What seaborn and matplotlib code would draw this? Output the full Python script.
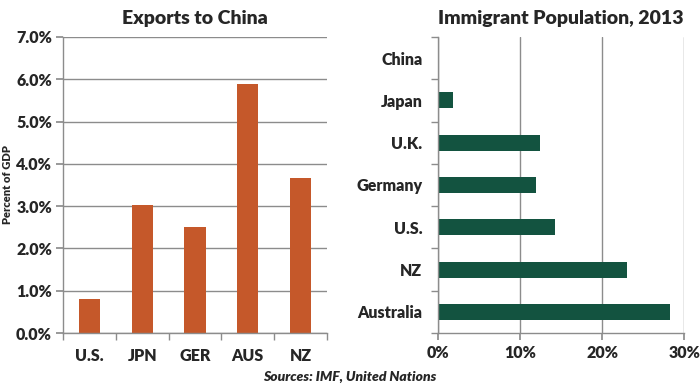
import matplotlib
matplotlib.use("Agg")
import matplotlib.pyplot as plt
import seaborn as sns
import numpy as np
import pandas as pd
from matplotlib.ticker import FixedLocator, FuncFormatter

exp_countries = ["U.S.", "JPN", "GER", "AUS", "NZ"]
exp_values = [0.80, 3.02, 2.50, 5.88, 3.67]

imm_countries = ["China", "Japan", "U.K.", "Germany", "U.S.", "NZ", "Australia"]
imm_values = [0.1, 1.9, 12.4, 11.9, 14.3, 23.0, 28.3]

sns.set_theme(style="white")
plt.rcParams['font.family'] = ['Lato', 'DejaVu Sans']
WT = "heavy"

orange = "#C5582A"
green = "#135340"
grid_c = "#8C8C8C"

fig = plt.figure(figsize=(7, 3.85), dpi=100)
W, H = 700, 385
ax1 = fig.add_axes([63 / W, (385 - 333) / H, 264 / W, 296 / H])
ax2 = fig.add_axes([437.7 / W, (385 - 333) / H, 246.6 / W, 296 / H])

df1 = pd.DataFrame({"c": exp_countries, "v": exp_values})
sns.barplot(data=df1, x="c", y="v", color=orange, width=0.4, ax=ax1,
            saturation=1, edgecolor="none")
ax1.set_ylim(0, 7)
ax1.set_xlim(-0.5, 4.5)
ax1.set_yticks(np.arange(0, 8, 1))
ax1.yaxis.set_major_formatter(FuncFormatter(lambda v, p: f"{v:.1f}%"))
ax1.yaxis.grid(True, color=grid_c, linewidth=1)
ax1.set_axisbelow(True)
ax1.set_xlabel("")
ax1.set_ylabel("Percent of GDP", fontsize=8, fontweight=WT, va="center")
ax1.yaxis.set_label_coords(-(63 - 8) / 264, 0.5)
ax1.set_title("Exports to China", fontsize=14, fontweight=WT, pad=9)
for s in ["top", "right"]:
    ax1.spines[s].set_visible(False)
for s in ["left", "bottom"]:
    ax1.spines[s].set_color(grid_c)
    ax1.spines[s].set_linewidth(1)
ax1.tick_params(axis="y", which="major", left=True, length=5, color=grid_c,
                labelsize=11.5, pad=3)
ax1.tick_params(axis="x", which="major", bottom=False, labelsize=11.5, pad=5)
ax1.xaxis.set_minor_locator(FixedLocator(np.arange(-0.5, 5, 1)))
ax1.tick_params(axis="x", which="minor", bottom=True, length=5, color=grid_c)
for lbl in ax1.get_xticklabels() + ax1.get_yticklabels():
    lbl.set_fontweight(WT)

df2 = pd.DataFrame({"c": imm_countries, "v": imm_values})
sns.barplot(data=df2, y="c", x="v", color=green, width=0.38, ax=ax2,
            saturation=1, edgecolor="none", orient="h")
ax2.set_xlim(0, 30)
ax2.set_ylim(6.5, -0.5)
ax2.set_xticks([0, 10, 20, 30])
ax2.xaxis.set_major_formatter(FuncFormatter(lambda v, p: f"{v:.0f}%"))
ax2.xaxis.grid(True, color=grid_c, linewidth=1)
ax2.set_axisbelow(True)
ax2.set_xlabel("")
ax2.set_ylabel("")
ax2.set_title("Immigrant Population, 2013", fontsize=14, fontweight=WT, pad=9)
for s in ["top", "right"]:
    ax2.spines[s].set_visible(False)
for s in ["left", "bottom"]:
    ax2.spines[s].set_color(grid_c)
    ax2.spines[s].set_linewidth(1)
ax2.tick_params(axis="x", which="major", bottom=True, length=5, color=grid_c,
                labelsize=11.5, pad=4)
ax2.tick_params(axis="y", which="major", left=False, labelsize=11.5, pad=5)
ax2.yaxis.set_minor_locator(FixedLocator(np.arange(-0.5, 7, 1)))
ax2.tick_params(axis="y", which="minor", left=True, length=5, color=grid_c)
for lbl in ax2.get_xticklabels() + ax2.get_yticklabels():
    lbl.set_fontweight(WT)

fig.text(350 / W, 1 - 377 / H, "Sources: IMF, United Nations", ha="center",
         va="center", fontsize=10, fontweight=WT, style="italic")

fig.savefig("out.png", dpi=100, facecolor="white")
